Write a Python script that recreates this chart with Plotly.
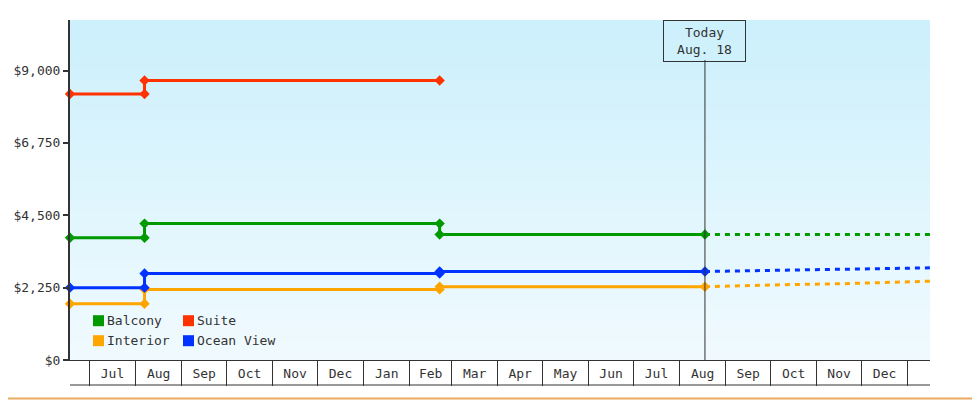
import plotly.graph_objects as go

# axis setup
x_range = ['2017-06-18', '2019-01-16']
first_month = '2017-07-01'
today = '2018-08-18'
today_label = 'Today<br>Aug. 18'
y_ticks = [0, 2250, 4500, 6750, 9000]
y_tick_labels = ['$0', '$2,250', '$4,500', '$6,750', '$9,000']
y_max = 10570

# price history (each change has an end point and a start point on the same day)
history_dates = ['2017-06-18', '2017-08-07', '2017-08-07',
                 '2018-02-21', '2018-02-21', '2018-08-18']
balcony_prices = [3800, 3800, 4240, 4240, 3900, 3900]
interior_prices = [1750, 1750, 2195, 2195, 2278, 2278]
ocean_prices = [2250, 2250, 2690, 2690, 2752, 2752]
suite_dates = ['2017-06-18', '2017-08-07', '2017-08-07', '2018-02-21']
suite_prices = [8270, 8270, 8690, 8690]

# forecast after today
forecast_dates = ['2018-08-18', '2018-09-18', '2018-10-18',
                  '2018-11-18', '2018-12-18', '2019-01-17']
balcony_forecast = [3900, 3900, 3900, 3900, 3900, 3900]
interior_forecast = [2278, 2318, 2349, 2371, 2402, 2451]
ocean_forecast = [2752, 2778, 2800, 2826, 2850, 2866]

# legend: two rows of two
legend_rows = [['Balcony', 'Suite'], ['Interior', 'Ocean View']]

COLORS = {
    'Balcony': '#009900',
    'Suite': '#ff3300',
    'Interior': '#ffa500',
    'Ocean View': '#0033ff',
}
FONT = 'DejaVu Sans Mono'
INK = '#333333'

# the page puts the figure 8px in from the window corner,
# so the figure is sized to fill the rest of the 980x400 window
OFFSET = 8
W, H = 980 - OFFSET, 400 - OFFSET
L, R, T, B = 70 - OFFSET, 50, 20 - OFFSET, 40
PW, PH = W - L - R, H - T - B


def px_x(p):
    # window pixel -> paper x
    return (p - OFFSET - L) / PW


def px_y(p):
    # window pixel -> paper y
    return (H - B - (p - OFFSET)) / PH


fig = go.Figure()

history = [
    ('Balcony', history_dates, balcony_prices),
    ('Suite', suite_dates, suite_prices),
    ('Interior', history_dates, interior_prices),
    ('Ocean View', history_dates, ocean_prices),
]
for name, dates, prices in history:
    fig.add_trace(go.Scatter(
        x=dates, y=prices, mode='lines+markers', name=name,
        line=dict(color=COLORS[name], width=3),
        marker=dict(symbol='diamond', size=8, color=COLORS[name]),
        cliponaxis=False, showlegend=False))

forecasts = [
    ('Balcony', balcony_forecast),
    ('Interior', interior_forecast),
    ('Ocean View', ocean_forecast),
]
for name, prices in forecasts:
    fig.add_trace(go.Scatter(
        x=forecast_dates, y=prices, mode='lines',
        line=dict(color=COLORS[name], width=3, dash='5px,5px'),
        showlegend=False, hoverinfo='skip'))

# legend drawn as coloured squares with labels
for r, row in enumerate(legend_rows):
    cy = 320.7 + 20 * r
    for c, name in enumerate(row):
        left = 93 + 90 * c
        fig.add_shape(type='rect', xref='paper', yref='paper',
                      x0=px_x(left), x1=px_x(left + 11),
                      y0=px_y(cy + 5.5), y1=px_y(cy - 5.5),
                      fillcolor=COLORS[name], line_width=0)
        fig.add_annotation(x=px_x(left + 12.5), y=px_y(cy), xref='paper',
                           yref='paper', xanchor='left', yanchor='middle',
                           text=name, showarrow=False, borderpad=0,
                           font=dict(family=FONT, size=13, color=INK))

# gradient background for the plot area
top_rgb = (204, 240, 252)
bot_rgb = (240, 250, 254)
bands = 34
for i in range(bands):
    f = i / (bands - 1)
    c = tuple(round(t + (b - t) * f) for t, b in zip(top_rgb, bot_rgb))
    fig.add_shape(type='rect', xref='paper', yref='paper',
                  x0=0, x1=1, y0=1 - (i + 1) / bands, y1=1 - i / bands,
                  fillcolor='rgb(%d,%d,%d)' % c, line_width=0, layer='below')

# today marker
fig.add_shape(type='line', xref='x', yref='paper', x0=today, x1=today,
              y0=0, y1=px_y(60), line=dict(color=INK, width=1))
fig.add_annotation(x=today, xref='x', y=1, yref='paper', yanchor='top',
                   text=today_label, showarrow=False, width=73, height=32,
                   borderpad=4, bordercolor=INK, borderwidth=1,
                   font=dict(family=FONT, size=13, color=INK))

# bottom edge of the month boxes
fig.add_shape(type='line', xref='paper', yref='paper', x0=0, x1=1,
              y0=px_y(385), y1=px_y(385), line=dict(color=INK, width=1))

# outer frame
fig.add_shape(type='rect', xref='paper', yref='paper',
              x0=px_x(1), x1=px_x(978.5), y0=px_y(398.5), y1=px_y(1),
              line=dict(color='#e9a95f', width=2), layer='below')

fig.update_layout(
    width=W, height=H,
    margin=dict(l=L, r=R, t=T, b=B),
    paper_bgcolor='white',
    plot_bgcolor='rgba(0,0,0,0)',
    font=dict(family=FONT, size=13, color=INK),
    showlegend=False,
    xaxis=dict(
        type='date', range=x_range, tick0=first_month, dtick='M1',
        tickformat='%b', ticklabelmode='period', ticks='outside',
        ticklen=25, tickwidth=1, tickcolor=INK, ticklabelstandoff=-24,
        showline=True, linecolor=INK, linewidth=1, automargin=False,
        showgrid=False, zeroline=False),
    yaxis=dict(
        range=[0, y_max], tickmode='array', tickvals=y_ticks,
        ticktext=y_tick_labels, automargin=False,
        ticks='outside', ticklen=5, tickwidth=2, tickcolor=INK,
        showline=True, linecolor=INK, linewidth=2,
        showgrid=False, zeroline=False),
)

fig.write_html('out.html')
